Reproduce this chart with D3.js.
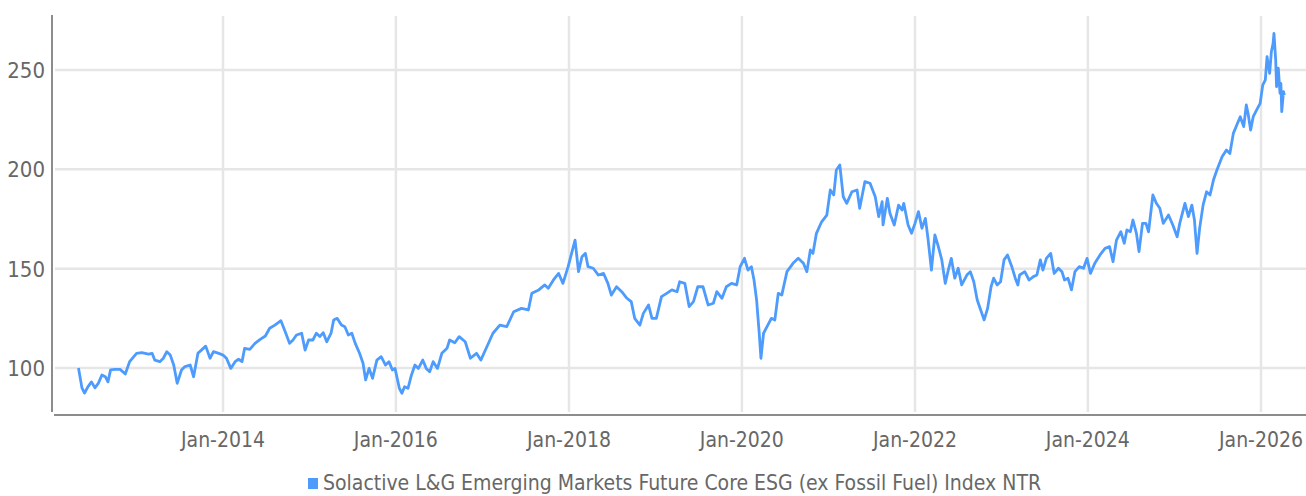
<!DOCTYPE html>
<html>
<head>
<meta charset="utf-8">
<script src="https://cdn.jsdelivr.net/npm/d3@7/dist/d3.min.js"></script>
<style>
body { margin: 0; background: #fff; }
.lbl { font-family: "Liberation Sans Narrow", "DejaVu Sans Condensed", sans-serif; fill: #676767; }
</style>
</head>
<body>
<div id="chart-area"></div>
<script>
// Index level, time as decimal years
var years = [
  2012.33, 2012.37, 2012.40, 2012.44, 2012.48, 2012.52, 2012.56, 2012.60, 2012.64, 2012.67,
  2012.70, 2012.75, 2012.81, 2012.87, 2012.92, 2013.00, 2013.06, 2013.14, 2013.18, 2013.21,
  2013.27, 2013.31, 2013.35, 2013.39, 2013.43, 2013.47, 2013.52, 2013.56, 2013.62, 2013.66,
  2013.71, 2013.75, 2013.80, 2013.85, 2013.89, 2013.95, 2014.00, 2014.04, 2014.09, 2014.14,
  2014.18, 2014.22, 2014.25, 2014.31, 2014.37, 2014.43, 2014.49, 2014.54, 2014.60, 2014.67,
  2014.72, 2014.77, 2014.81, 2014.85, 2014.91, 2014.95, 2014.99, 2015.04, 2015.08, 2015.12,
  2015.16, 2015.20, 2015.25, 2015.28, 2015.32, 2015.37, 2015.41, 2015.45, 2015.49, 2015.53,
  2015.58, 2015.62, 2015.65, 2015.69, 2015.73, 2015.78, 2015.83, 2015.88, 2015.92, 2015.96,
  2015.99, 2016.04, 2016.07, 2016.10, 2016.14, 2016.18, 2016.22, 2016.26, 2016.31, 2016.35,
  2016.39, 2016.43, 2016.48, 2016.53, 2016.59, 2016.62, 2016.68, 2016.73, 2016.80, 2016.86,
  2016.93, 2016.98, 2017.05, 2017.12, 2017.20, 2017.28, 2017.36, 2017.45, 2017.53, 2017.57,
  2017.65, 2017.72, 2017.76, 2017.82, 2017.88, 2017.93, 2017.99, 2018.03, 2018.07, 2018.11,
  2018.15, 2018.19, 2018.22, 2018.28, 2018.34, 2018.40, 2018.45, 2018.49, 2018.55, 2018.61,
  2018.67, 2018.72, 2018.76, 2018.82, 2018.86, 2018.92, 2018.96, 2019.01, 2019.07, 2019.13,
  2019.19, 2019.25, 2019.28, 2019.34, 2019.39, 2019.44, 2019.49, 2019.55, 2019.61, 2019.67,
  2019.71, 2019.77, 2019.82, 2019.88, 2019.94, 2019.98, 2020.03, 2020.07, 2020.11, 2020.14,
  2020.17, 2020.20, 2020.22, 2020.25, 2020.29, 2020.34, 2020.38, 2020.42, 2020.46, 2020.52,
  2020.59, 2020.65, 2020.71, 2020.75, 2020.79, 2020.82, 2020.86, 2020.92, 2020.98, 2021.02,
  2021.06, 2021.09, 2021.13, 2021.17, 2021.21, 2021.27, 2021.33, 2021.36, 2021.42, 2021.48,
  2021.54, 2021.58, 2021.62, 2021.63, 2021.68, 2021.71, 2021.76, 2021.81, 2021.85, 2021.87,
  2021.92, 2021.96, 2022.00, 2022.04, 2022.08, 2022.12, 2022.15, 2022.19, 2022.23, 2022.27,
  2022.31, 2022.35, 2022.39, 2022.42, 2022.46, 2022.50, 2022.54, 2022.60, 2022.64, 2022.68,
  2022.72, 2022.76, 2022.80, 2022.84, 2022.88, 2022.91, 2022.95, 2022.99, 2023.03, 2023.07,
  2023.12, 2023.16, 2023.19, 2023.21, 2023.27, 2023.32, 2023.37, 2023.41, 2023.45, 2023.48,
  2023.52, 2023.57, 2023.61, 2023.66, 2023.70, 2023.73, 2023.77, 2023.81, 2023.85, 2023.90,
  2023.95, 2023.99, 2024.03, 2024.08, 2024.14, 2024.20, 2024.25, 2024.29, 2024.33, 2024.38,
  2024.42, 2024.45, 2024.49, 2024.52, 2024.56, 2024.59, 2024.63, 2024.67, 2024.70, 2024.75,
  2024.79, 2024.83, 2024.87, 2024.93, 2024.98, 2025.03, 2025.06, 2025.12, 2025.16, 2025.20,
  2025.23, 2025.26, 2025.29, 2025.33, 2025.37, 2025.41, 2025.45, 2025.49, 2025.55, 2025.60,
  2025.64, 2025.68, 2025.72, 2025.76, 2025.80, 2025.83, 2025.85, 2025.88, 2025.91, 2025.95,
  2025.99, 2026.02, 2026.05, 2026.07, 2026.10, 2026.12, 2026.14, 2026.15, 2026.17, 2026.18,
  2026.20, 2026.22, 2026.23, 2026.24, 2026.26, 2026.27
];
var values = [
  100, 90, 87.4, 90.6, 93, 90, 92.4, 96.5, 95.6, 93,
  99, 99.3, 99.3, 97, 103.2, 107.4, 107.7, 107, 107.4, 104,
  103.2, 104.9, 108.2, 106.5, 101.5, 92.3, 99, 100.7, 101.5, 95.6,
  107.4, 109, 111, 104.9, 108.2, 107.4, 106.5, 104.9, 99.8, 103.2,
  104.4, 103.2, 109.9, 109.4, 112.4, 114.4, 116.1, 120, 121.6, 123.8,
  118.3, 112.4, 114.1, 116.6, 117.5, 109, 114.1, 114.1, 117.5, 115.8,
  117.8, 113.2, 117.5, 124.2, 125, 121.6, 120.8, 116.6, 117.5, 112.4,
  107.4, 102.4, 94, 99.8, 94.8, 104, 105.7, 101.5, 103.2, 99,
  99.8, 89.8, 87.3, 90.6, 89.8, 96.5, 101.5, 99.8, 104, 99.8,
  98.1, 103.2, 99.8, 107.4, 109.9, 114.1, 112.7, 115.8, 113.2, 104.9,
  107.4, 104, 110.7, 117.5, 121.6, 120.8, 128.3, 130, 129.2, 137.6,
  139.3, 141.8, 140.1, 144.3, 147.6, 142.6, 151, 157.7, 164.4, 148.5,
  156, 157.7, 151, 150.2, 146.8, 147.6, 142.6, 136.7, 140.9, 138.4,
  135.1, 133.4, 125, 121.6, 127.5, 131.7, 125, 125, 135.9, 137.6,
  139.3, 138.4, 143.4, 142.6, 130.9, 133.4, 140.9, 140.9, 131.7, 132.6,
  138.4, 135.1, 140.9, 142.6, 141.8, 151, 155.2, 149.3, 151, 144.3,
  134.2, 117.5, 104.9, 117.5, 120.8, 125, 124.2, 137.6, 136.7, 148.5,
  152.7, 155.2, 152.7, 148.5, 159.4, 157.7, 167.8, 173.6, 177, 189.6,
  187.1, 199.7, 202.2, 186.2, 182.9, 188.7, 189.6, 180.4, 193.8, 193,
  186.2, 176.2, 183.7, 172, 185.4, 177.9, 172, 182, 179.5, 182.9,
  172, 167.8, 172.8, 178.7, 170.3, 175.3, 165.3, 149.3, 167, 161.1,
  154.4, 142.6, 150.2, 155.2, 145.2, 150.2, 141.8, 146.8, 148.5, 143.4,
  134.2, 129.2, 124.2, 130, 140.9, 145.2, 141.8, 143.4, 154.4, 156.9,
  151, 145.2, 141.8, 146.8, 148.5, 144.3, 146, 146.8, 154.4, 149.3,
  155.2, 157.7, 147.6, 150.2, 148.5, 144.3, 145.2, 139.3, 148.5, 151,
  150.2, 155.2, 147.6, 152.7, 156.9, 160.3, 161.1, 153.5, 164.4, 168.6,
  162.8, 169.5, 168.6, 174.5, 167.8, 158.6, 172.8, 172.8, 168.6, 187.1,
  182.9, 180.4, 172.8, 177, 172, 166.1, 172.8, 182.9, 176.2, 182,
  174.5, 157.7, 170.3, 182, 188.7, 187.1, 194.6, 199.7, 206.3, 209.7,
  208, 218.1, 222.3, 226.5, 221.5, 232.4, 228.2, 219.8, 226.5, 229.9,
  233.2, 242.4, 245, 256.7, 248.3, 259.2, 263.4, 268.4, 255, 241.6,
  250.9, 238.3, 243.3, 229, 239.1, 237.4
];
var xTickYears = [2014, 2016, 2018, 2020, 2022, 2024, 2026];
var yTicks = [100, 150, 200, 250];
var seriesName = "Solactive L&G Emerging Markets Future Core ESG (ex Fossil Fuel) Index NTR";

var W = 1306, H = 496;
var plot = { left: 52, right: 1306, top: 15, bottom: 413 };

function toDate(t) {
    var y = Math.floor(t);
    var s = new Date(y, 0, 1), e = new Date(y + 1, 0, 1);
    return new Date(+s + (t - y) * (e - s));
}

var data = years.map(function(t, i) { return { date: toDate(t), value: values[i] }; });

var svg = d3.select("#chart-area").append("svg")
    .attr("width", W)
    .attr("height", H);

// Scales
var x = d3.scaleTime()
    .domain([new Date(2014, 0, 1), new Date(2026, 0, 1)])
    .range([223, 1261]);
var y = d3.scaleLinear()
    .domain([100, 250])
    .range([368, 70]);

// Grid
svg.append("g").selectAll("line")
    .data(yTicks)
    .enter().append("line")
    .attr("x1", plot.left + 3).attr("x2", plot.right)
    .attr("y1", function(d) { return y(d); })
    .attr("y2", function(d) { return y(d); })
    .attr("stroke", "#e6e6e6")
    .attr("stroke-width", 2.5);

svg.append("g").selectAll("line")
    .data(xTickYears)
    .enter().append("line")
    .attr("x1", function(d) { return x(new Date(d, 0, 1)); })
    .attr("x2", function(d) { return x(new Date(d, 0, 1)); })
    .attr("y1", plot.top + 1).attr("y2", plot.bottom - 1)
    .attr("stroke", "#e6e6e6")
    .attr("stroke-width", 2.5);

// Axis lines
svg.append("line")
    .attr("x1", plot.left).attr("x2", plot.left)
    .attr("y1", plot.top).attr("y2", plot.bottom - 1)
    .attr("stroke", "#8c8c8c").attr("stroke-width", 2);
svg.append("line")
    .attr("x1", plot.left + 2).attr("x2", plot.right)
    .attr("y1", plot.bottom + 2).attr("y2", plot.bottom + 2)
    .attr("stroke", "#8c8c8c").attr("stroke-width", 2);

// Tick labels
svg.append("g").selectAll("text")
    .data(yTicks)
    .enter().append("text")
    .attr("class", "lbl")
    .attr("x", 45)
    .attr("y", function(d) { return y(d); })
    .attr("dy", "0.36em")
    .attr("text-anchor", "end")
    .attr("font-size", "22px")
    .text(function(d) { return d; });

var fmt = d3.timeFormat("%b-%Y");
svg.append("g").selectAll("text")
    .data(xTickYears)
    .enter().append("text")
    .attr("class", "lbl")
    .attr("x", function(d) { return x(new Date(d, 0, 1)); })
    .attr("y", 447)
    .attr("text-anchor", "middle")
    .attr("font-size", "21px")
    .text(function(d) { return fmt(new Date(d, 0, 1)); });

// Line
var line = d3.line()
    .x(function(d) { return x(d.date); })
    .y(function(d) { return y(d.value); });

svg.append("path")
    .datum(data)
    .attr("fill", "none")
    .attr("stroke", "#4d9bfd")
    .attr("stroke-width", 2.8)
    .attr("stroke-linejoin", "round")
    .attr("d", line);

// Legend
var legend = svg.append("g");
legend.append("rect")
    .attr("x", 308).attr("y", 478)
    .attr("width", 10).attr("height", 11)
    .attr("fill", "#4d9bfd");
legend.append("text")
    .attr("class", "lbl")
    .attr("x", 323).attr("y", 490)
    .attr("font-size", "21px")
    .text(seriesName);
</script>
</body>
</html>
